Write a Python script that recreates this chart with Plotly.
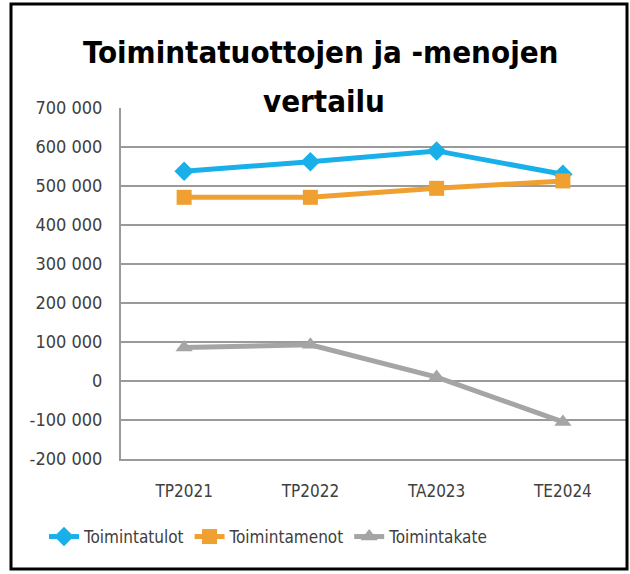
import plotly.graph_objects as go

categories = ["TP2021", "TP2022", "TA2023", "TE2024"]
toimintatulot = [538000, 562000, 590000, 530000]
toimintamenot = [471000, 471000, 494000, 513000]
toimintakate = [86000, 93000, 10000, -105000]
ytick_vals = [700000, 600000, 500000, 400000, 300000, 200000, 100000, 0, -100000, -200000]
ytick_text = ["700 000", "600 000", "500 000", "400 000", "300 000", "200 000", "100 000", "0", "-100 000", "-200 000"]
title_lines = ["Toimintatuottojen ja -menojen", "vertailu"]

FONT = "DejaVu Sans Condensed"

fig = go.Figure()
series = [
    ("Toimintatulot", toimintatulot, "#19b0ea", "diamond", 15),
    ("Toimintamenot", toimintamenot, "#f0a030", "square", 15),
    ("Toimintakate", toimintakate, "#a5a5a5", "triangle-up", 15),
]
for name, vals, color, sym, size in series:
    fig.add_trace(go.Scatter(
        x=categories, y=vals, name=name, mode="lines+markers",
        line=dict(color=color, width=5),
        marker=dict(symbol=sym, size=size, color=color),
    ))

L, R, T, B = 121, 4, 108, 115
W, H = 630, 574
pw, ph = W - L - R, H - T - B

def px_x(px):
    return (px - L) / pw

def px_y(py):
    return (H - B - py) / ph

annotations = [
    dict(text=f"<b>{title_lines[0]}</b>", x=px_x(320), y=px_y(52), xref="paper", yref="paper",
         xanchor="center", yanchor="middle", showarrow=False,
         font=dict(family=FONT, size=31, color="black")),
    dict(text=f"<b>{title_lines[1]}</b>", x=px_x(324), y=px_y(101), xref="paper", yref="paper",
         xanchor="center", yanchor="middle", showarrow=False,
         font=dict(family=FONT, size=31, color="black")),
]

fig.update_layout(
    width=W, height=H,
    margin=dict(l=L, r=R, t=T, b=B),
    paper_bgcolor="white", plot_bgcolor="white",
    font=dict(family=FONT, color="#404040", size=18),
    annotations=annotations,
    showlegend=True,
    legend=dict(orientation="h", x=px_x(44), xanchor="left", y=px_y(537), yanchor="middle",
                font=dict(size=17, color="#404040"), itemwidth=30, traceorder="normal",
                bgcolor="rgba(0,0,0,0)"),
    xaxis=dict(
        type="category", range=[-0.5, 3.5], showgrid=False, showline=True,
        linecolor="#9a9a9a", linewidth=2, ticks="outside", ticklen=16, tickcolor="rgba(0,0,0,0)",
        tickfont=dict(size=17, color="#404040"),
    ),
    yaxis=dict(
        range=[-200000, 700000], tickvals=ytick_vals, ticktext=ytick_text,
        showgrid=True, gridcolor="#9a9a9a", gridwidth=2, zeroline=False,
        showline=True, linecolor="#9a9a9a", linewidth=2, ticks="outside", ticklen=13,
        tickcolor="rgba(0,0,0,0)", tickfont=dict(size=18, color="#404040"),
    ),
    shapes=[dict(
        type="rect", xref="paper", yref="paper",
        x0=px_x(11), x1=px_x(627),
        y0=px_y(569), y1=px_y(4),
        line=dict(color="black", width=3), layer="above",
    )],
)

fig.write_html("out.html", config={"displayModeBar": False},
               post_script="document.body.style.margin='0';document.body.style.overflow='hidden';")
